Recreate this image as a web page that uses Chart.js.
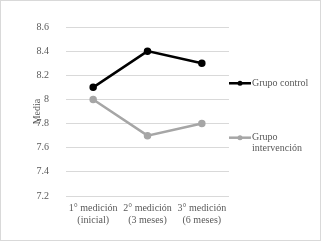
<!DOCTYPE html>
<html>
<head>
<meta charset="utf-8">
<script src="https://cdn.jsdelivr.net/npm/chart.js@4/dist/chart.umd.min.js"></script>
<style>
  html, body { margin: 0; padding: 0; background: #fff; }
  #wrap { width: 319px; height: 239px; border: 1px solid #d9d9d9; }
</style>
</head>
<body>
<div id="wrap"><canvas id="chart" width="319" height="239"></canvas></div>
<script>
const categorias = [['1° medición', '(inicial)'], ['2° medición', '(3 meses)'], ['3° medición', '(6 meses)']];
const grupoControl = [8.1, 8.4, 8.3];
const grupoIntervencion = [8.0, 7.7, 7.8];
const leyenda = [['Grupo control'], ['Grupo', 'intervención']];

const fuente = 'Liberation Serif';
const gris = '#595959';

// leyenda a la derecha, dibujada a mano
const leyendaPlugin = {
  id: 'leyendaDerecha',
  afterDraw(chart) {
    const ctx = chart.ctx;
    const a = chart.chartArea;
    const x0 = a.right;
    const ys = [a.top + 0.333 * a.height, a.top + 0.655 * a.height];
    ctx.save();
    ctx.font = '10px "' + fuente + '"';
    ctx.textBaseline = 'middle';
    chart.data.datasets.forEach((ds, i) => {
      const y = ys[i];
      ctx.strokeStyle = ds.borderColor;
      ctx.lineWidth = ds.borderWidth;
      ctx.beginPath();
      ctx.moveTo(x0, y);
      ctx.lineTo(x0 + 22, y);
      ctx.stroke();
      ctx.fillStyle = ds.borderColor;
      ctx.beginPath();
      ctx.arc(x0 + 11, y, 2.5, 0, Math.PI * 2);
      ctx.fill();
      ctx.fillStyle = gris;
      leyenda[i].forEach((t, j) => ctx.fillText(t, x0 + 23, y + j * 11));
    });
    ctx.restore();
  }
};

new Chart(document.getElementById('chart'), {
  type: 'line',
  data: {
    labels: categorias,
    datasets: [
      {
        label: 'Grupo control',
        data: grupoControl,
        borderColor: '#000000',
        backgroundColor: '#000000',
        borderWidth: 2.5,
        pointRadius: 2.5,
        tension: 0
      },
      {
        label: 'Grupo intervención',
        data: grupoIntervencion,
        borderColor: '#a6a6a6',
        backgroundColor: '#a6a6a6',
        borderWidth: 2.5,
        pointRadius: 2.5,
        tension: 0
      }
    ]
  },
  options: {
    responsive: false,
    animation: false,
    layout: { padding: { top: 26, left: 18.5, right: 91, bottom: 8 } },
    plugins: {
      legend: { display: false },
      tooltip: { enabled: false }
    },
    scales: {
      x: {
        offset: true,
        grid: { display: false, drawTicks: false },
        border: { display: false },
        ticks: { color: gris, font: { family: fuente, size: 10 }, maxRotation: 0, autoSkip: false, padding: 6 }
      },
      y: {
        min: 7.2,
        max: 8.6,
        border: { display: false },
        grid: { color: '#d9d9d9', drawTicks: false },
        ticks: {
          stepSize: 0.2, color: gris, font: { family: fuente, size: 10 }, padding: 17,
          callback: v => String(Math.round(v * 10) / 10)
        },
        title: { display: true, text: 'Media', color: gris, font: { family: fuente, size: 10 }, padding: { top: 12, bottom: -24 } }
      }
    }
  },
  plugins: [leyendaPlugin]
});
</script>
</body>
</html>
